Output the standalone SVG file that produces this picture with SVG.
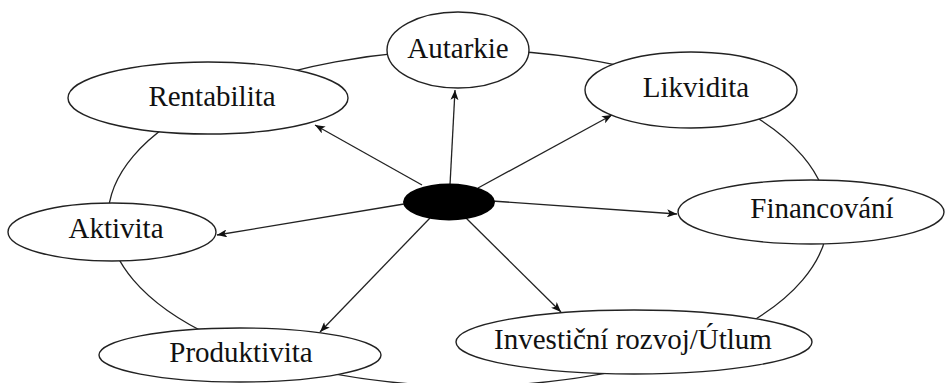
<svg xmlns="http://www.w3.org/2000/svg" width="948" height="383" viewBox="0 0 948 383">
<defs>
<style>
.node{fill:#fff;stroke:#222;stroke-width:1.4}
.ring{fill:none;stroke:#222;stroke-width:1.3}
.edge{fill:none;stroke:#222;stroke-width:1.3;marker-end:url(#ah)}
text{font-family:"Liberation Serif","Times New Roman",serif;font-size:29px;fill:#111;text-anchor:middle}
</style>
<marker id="ah" viewBox="0 0 10 8" refX="10" refY="4" markerWidth="10" markerHeight="8" markerUnits="userSpaceOnUse" orient="auto">
<path d="M0,0 L10,4 L0,8 L2.5,4 Z" fill="#111"/>
</marker>
</defs>
<rect width="948" height="383" fill="#fff"/>
<g id="connectors">
<ellipse class="ring" cx="468" cy="218" rx="360" ry="168"/>
<line class="edge" x1="422" y1="185" x2="315" y2="125"/>
<line class="edge" x1="450" y1="185" x2="455" y2="90"/>
<line class="edge" x1="478" y1="188" x2="612" y2="115"/>
<line class="edge" x1="492" y1="201" x2="677" y2="214"/>
<line class="edge" x1="466" y1="218" x2="561" y2="312"/>
<line class="edge" x1="430" y1="218" x2="320" y2="332"/>
<line class="edge" x1="404" y1="204" x2="217" y2="235"/>
</g>
<g id="center"><ellipse cx="449" cy="202" rx="46" ry="18.5" fill="#000"/></g>
<g id="autarkie"><ellipse class="node" cx="458" cy="50" rx="71" ry="38"/><text x="458" y="58">Autarkie</text></g>
<g id="rentabilita"><ellipse class="node" cx="208" cy="98" rx="140" ry="36"/><text x="212" y="106">Rentabilita</text></g>
<g id="likvidita"><ellipse class="node" cx="691" cy="90" rx="106" ry="38"/><text x="696" y="97">Likvidita</text></g>
<g id="financovani"><ellipse class="node" cx="811" cy="212" rx="133" ry="32"/><text x="822" y="218">Financování</text></g>
<g id="aktivita"><ellipse class="node" cx="112" cy="232" rx="104" ry="29"/><text x="116" y="238">Aktivita</text></g>
<g id="produktivita"><ellipse class="node" cx="240" cy="355" rx="141" ry="27"/><text x="241" y="362">Produktivita</text></g>
<g id="investicni"><ellipse class="node" cx="634" cy="342" rx="178" ry="32"/><text x="633" y="349">Investiční rozvoj/Útlum</text></g>
</svg>
